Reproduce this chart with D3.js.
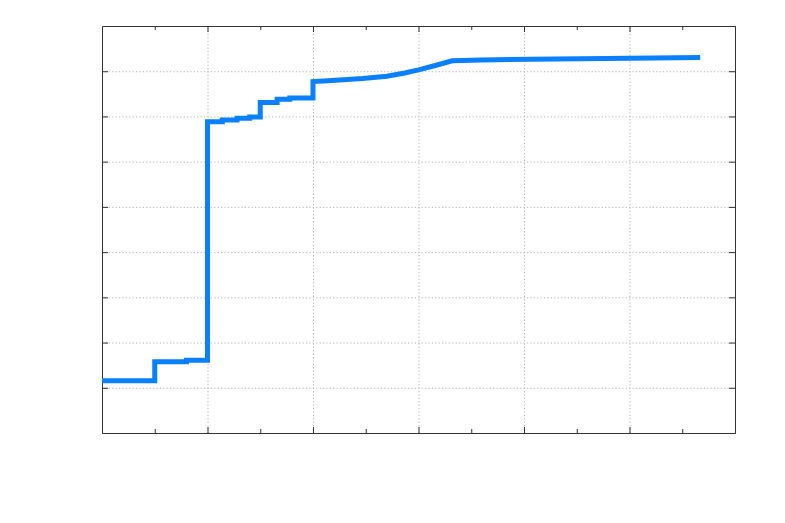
<!DOCTYPE html>
<html>
<head>
<meta charset="utf-8">
<script src="https://cdn.jsdelivr.net/npm/d3@7"></script>
<style>
  body { margin: 0; background: #fff; }
  .grid line { stroke: #b4b4b4; stroke-dasharray: 1.2, 2.2; }
  .grid path { display: none; }
  .frame path, .frame line { stroke: #333; }
</style>
</head>
<body>
<div class="chart"></div>
<script>
var width = 785,
    height = 523,
    plotLeft = 102, plotRight = 735, plotTop = 26, plotBottom = 433;

// x and y values of the curve (repeated x = vertical step)
var xValues = [0, 0.5, 0.5, 0.8, 0.8, 1.0, 1.0, 1.14, 1.14, 1.28, 1.28, 1.4, 1.4, 1.5, 1.5, 1.66, 1.66, 1.78, 1.78, 2.0, 2.0,
               2.14, 2.47, 2.70, 2.87, 3.0, 3.15, 3.32, 3.6, 4.3, 5.0, 5.67];
var yValues = [1.157, 1.157, 1.577, 1.577, 1.608, 1.608, 6.884, 6.884, 6.92, 6.92, 6.96, 6.96, 6.99, 6.99, 7.31, 7.31, 7.38, 7.38, 7.41, 7.41, 7.77,
               7.79, 7.84, 7.89, 7.96, 8.03, 8.12, 8.23, 8.25, 8.27, 8.285, 8.305];

var majorX = [1, 2, 3, 4, 5];
var minorX = [0.5, 1.5, 2.5, 3.5, 4.5, 5.5];
var majorY = [1, 2, 3, 4, 5, 6, 7, 8];

var svg = d3.select('.chart').append('svg').attr('width', width).attr('height', height);

var xScale = d3.scaleLinear().domain([0, 6]).range([plotLeft, plotRight]);
var yScale = d3.scaleLinear().domain([0, 9]).range([plotBottom, plotTop]);

//dotted grid
svg.append('g').attr('class', 'grid').attr('transform', 'translate(0,' + plotBottom + ')')
  .call(d3.axisBottom(xScale).tickValues(majorX).tickSize(-(plotBottom - plotTop)).tickFormat(''));
svg.append('g').attr('class', 'grid').attr('transform', 'translate(' + plotLeft + ',0)')
  .call(d3.axisLeft(yScale).tickValues(majorY).tickSize(-(plotRight - plotLeft)).tickFormat(''));

//frame with inward ticks on all four sides
function frame(axis, tx, ty, vals, size) {
  svg.append('g').attr('class', 'frame').attr('transform', 'translate(' + tx + ',' + ty + ')')
    .call(axis.tickValues(vals).tickSizeInner(size).tickSizeOuter(0).tickFormat(''));
}
frame(d3.axisBottom(xScale), 0, plotBottom, majorX, -6);
frame(d3.axisBottom(xScale), 0, plotBottom, minorX, -4);
frame(d3.axisTop(xScale), 0, plotTop, majorX, -6);
frame(d3.axisTop(xScale), 0, plotTop, minorX, -4);
frame(d3.axisLeft(yScale), plotLeft, 0, majorY, -6);
frame(d3.axisRight(yScale), plotRight, 0, majorY, -6);

var points = xValues.map(function (d, i) { return [d, yValues[i]]; });
var line = d3.line()
  .x(function (d) { return xScale(d[0]); })
  .y(function (d) { return yScale(d[1]); });

svg.append('path').datum(points)
  .attr('d', line)
  .attr('fill', 'none')
  .attr('stroke', '#0a80ff')
  .attr('stroke-width', 5)
  .attr('stroke-linejoin', 'miter');
</script>
</body>
</html>
